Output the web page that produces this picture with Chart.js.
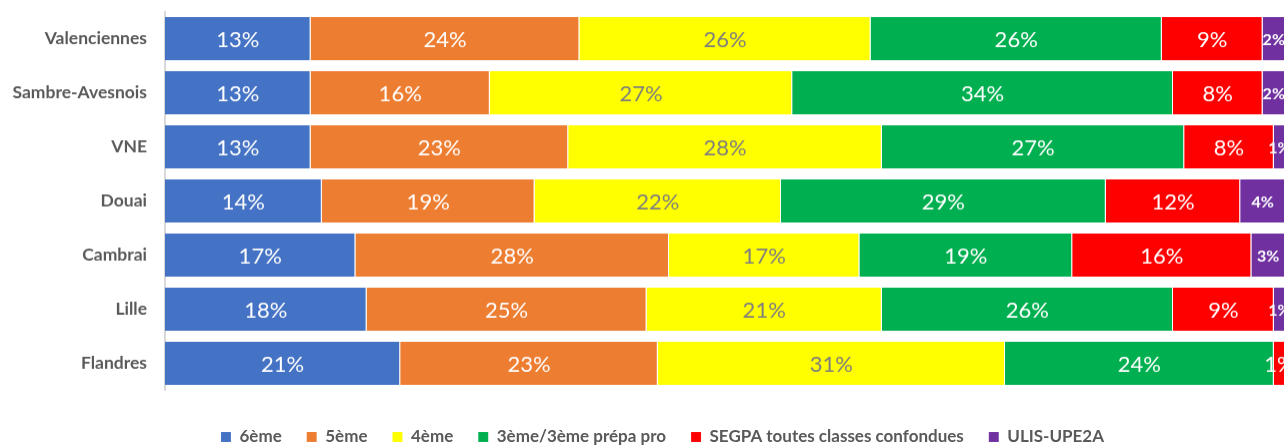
<!DOCTYPE html>
<html>
<head>
<meta charset="utf-8">
<script src="https://cdn.jsdelivr.net/npm/chart.js@4"></script>
<style>
    body { margin: 0; overflow: hidden; background: #fff; }
    #wrap { position: relative; width: 1290px; height: 454.5px; }
</style>
</head>
<body>
<div id="wrap"><canvas id="chart"></canvas></div>
<script>
// Bassins, top to bottom
const categories = ['Valenciennes', 'Sambre-Avesnois', 'VNE', 'Douai', 'Cambrai', 'Lille', 'Flandres'];

// Share of each level (%)
const sixieme = [13, 13, 13, 14, 17, 18, 21];
const cinquieme = [24, 16, 23, 19, 28, 25, 23];
const quatrieme = [26, 27, 28, 22, 17, 21, 31];
const troisieme = [26, 34, 27, 29, 19, 26, 24];
const segpa = [9, 8, 8, 12, 16, 9, 1];
const ulis = [2, 2, 1, 4, 3, 1, 0];

const seriesNames = ['6ème', '5ème', '4ème', '3ème/3ème prépa pro', 'SEGPA toutes classes confondues', 'ULIS-UPE2A'];
const seriesColors = ['#4472C4', '#ED7D31', '#FFFF00', '#00B050', '#FF0000', '#7030A0'];

// Draws the "xx%" label in the middle of each segment
const barLabels = {
    id: 'barLabels',
    afterDatasetsDraw(chart) {
        const ctx = chart.ctx;
        chart.data.datasets.forEach((ds, i) => {
            const meta = chart.getDatasetMeta(i);
            meta.data.forEach((bar, j) => {
                const v = ds.data[j];
                if (!v) return;
                ctx.save();
                ctx.font = i === 5 ? 'bold 16px Lato' : '22px Lato';
                ctx.fillStyle = i === 2 ? '#7F7F7F' : '#FFFFFF';
                ctx.textAlign = 'center';
                ctx.textBaseline = 'middle';
                ctx.fillText(v + '%', (bar.x + bar.base) / 2, bar.y + 1);
                ctx.restore();
            });
        });
    }
};

// legend sits a bit right of the canvas centre in the original
const legendShift = {
    id: 'legendShift',
    afterLayout(chart) {
        chart.legend.left += 20;
        chart.legend.right += 20;
    }
};

function drawChart() {
    const values = [sixieme, cinquieme, quatrieme, troisieme, segpa, ulis];
    const datasets = values.map((data, i) => ({
        label: seriesNames[i],
        data: data,
        backgroundColor: seriesColors[i],
        borderColor: 'rgba(255, 255, 255, 0.35)',
        borderWidth: { right: 1 },
        borderSkipped: false,
        barPercentage: 0.8,
        categoryPercentage: 1,
    }));

    new Chart(document.getElementById('chart'), {
        type: 'bar',
        data: { labels: categories, datasets: datasets },
        options: {
            indexAxis: 'y',
            responsive: true,
            maintainAspectRatio: false,
            animation: false,
            layout: { padding: { top: 11.5, left: 0, right: 5, bottom: 0 } },
            plugins: {
                tooltip: { enabled: false },
                legend: {
                    position: 'bottom',
                    labels: {
                        boxWidth: 10,
                        boxHeight: 10,
                        padding: 25,
                        color: '#595959',
                        font: { family: 'Lato', size: 17, weight: 'bold' },
                    },
                },
            },
            scales: {
                x: {
                    stacked: true,
                    min: 0,
                    max: 100,
                    ticks: { display: false },
                    grid: { display: false },
                    border: { display: false },
                    afterFit(scale) { scale.height = 13; },
                },
                y: {
                    stacked: true,
                    grid: { display: false, drawTicks: false },
                    border: { display: true, color: '#D9D9D9', width: 2 },
                    ticks: {
                        padding: 18,
                        color: '#595959',
                        font: { family: 'Lato', size: 17.5, weight: 'bold' },
                    },
                    afterFit(scale) {
                        scale.width = 165;
                        scale.paddingTop = 0;
                        scale.paddingBottom = 0;
                    },
                },
            },
        },
        plugins: [barLabels, legendShift],
    });
}

document.fonts.load('bold 16px Lato').then(drawChart, drawChart);
</script>
</body>
</html>
